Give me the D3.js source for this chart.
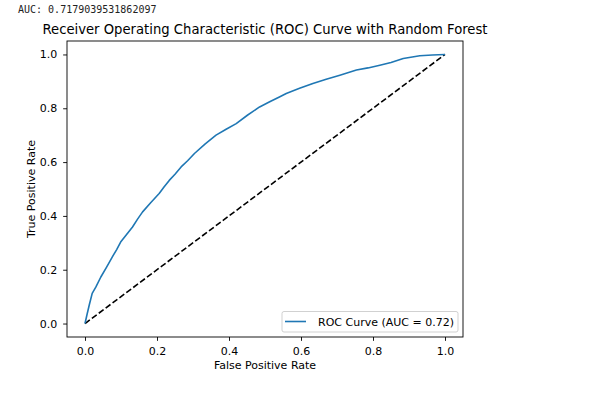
<!DOCTYPE html>
<html>
<head>
<meta charset="utf-8">
<script src="https://cdn.jsdelivr.net/npm/d3@7"></script>
<style>
  body { margin: 0; background: #fff; }
  svg text { font-family: "DejaVu Sans", sans-serif; }
</style>
</head>
<body>
<div id="chart"></div>
<script>
// ROC points
const fpr = [0, 0.005, 0.012, 0.020, 0.030, 0.044, 0.060, 0.076, 0.088, 0.099, 0.115, 0.132, 0.146, 0.160, 0.183, 0.206, 0.220, 0.234, 0.250, 0.267, 0.285, 0.304, 0.334, 0.364, 0.392, 0.420, 0.452, 0.485, 0.513, 0.540, 0.559, 0.596, 0.633, 0.670, 0.708, 0.754, 0.786, 0.819, 0.850, 0.884, 0.930, 0.965, 1.0];
const tpr = [0, 0.030, 0.070, 0.112, 0.135, 0.173, 0.210, 0.248, 0.275, 0.303, 0.330, 0.359, 0.388, 0.415, 0.450, 0.483, 0.508, 0.532, 0.555, 0.582, 0.605, 0.632, 0.668, 0.700, 0.722, 0.743, 0.775, 0.805, 0.824, 0.842, 0.855, 0.874, 0.892, 0.908, 0.923, 0.942, 0.950, 0.960, 0.970, 0.985, 0.995, 0.998, 1.0];
const ticks = [0, 0.2, 0.4, 0.6, 0.8, 1.0];
const aucText = "AUC: 0.7179039531862097";
const legendLabel = "ROC Curve (AUC = 0.72)";

const W = 596, H = 393;
const box = {left: 67, right: 463, top: 41, bottom: 337};

const svg = d3.select("#chart").append("svg")
  .attr("width", W)
  .attr("height", H);

svg.append("text")
  .attr("x", 18).attr("y", 13)
  .style("font-family", "'DejaVu Sans Mono', monospace")
  .style("font-size", "10px")
  .attr("fill", "#222")
  .text(aucText);

const x = d3.scaleLinear().domain([-0.05, 1.05]).range([box.left, box.right]);
const y = d3.scaleLinear().domain([-0.05, 1.05]).range([box.bottom, box.top]);

// diagonal reference
const line = d3.line().x(d => x(d[0])).y(d => y(d[1]));
svg.append("path")
  .attr("d", line([[0, 0], [1, 1]]))
  .attr("fill", "none")
  .attr("stroke", "#000")
  .attr("stroke-width", 1.6)
  .attr("stroke-dasharray", "6,2.6");

svg.append("path")
  .attr("d", line(fpr.map((f, i) => [f, tpr[i]])))
  .attr("fill", "none")
  .attr("stroke", "#1f77b4")
  .attr("stroke-width", 1.6)
  .attr("stroke-linejoin", "round");

// axes
const fmt = d3.format(".1f");
const gx = svg.append("g")
  .attr("transform", `translate(0,${box.bottom})`)
  .call(d3.axisBottom(x).tickValues(ticks).tickFormat(fmt).tickSize(3.85).tickPadding(6));
const gy = svg.append("g")
  .attr("transform", `translate(${box.left},0)`)
  .call(d3.axisLeft(y).tickValues(ticks).tickFormat(fmt).tickSize(3.85).tickPadding(6));
[gx, gy].forEach(g => {
  g.select(".domain").remove();
  g.selectAll("line").attr("stroke", "#000").attr("stroke-width", 0.9);
  g.selectAll("text").attr("fill", "#000").style("font-size", "11px")
    .style("font-family", "'DejaVu Sans', sans-serif");
});

svg.append("rect")
  .attr("x", box.left).attr("y", box.top)
  .attr("width", box.right - box.left).attr("height", box.bottom - box.top)
  .attr("fill", "none").attr("stroke", "#000").attr("stroke-width", 0.9);

// labels
svg.append("text")
  .attr("x", (box.left + box.right) / 2).attr("y", 34)
  .attr("text-anchor", "middle")
  .style("font-size", "13.2px")
  .text("Receiver Operating Characteristic (ROC) Curve with Random Forest");

svg.append("text")
  .attr("x", (box.left + box.right) / 2).attr("y", 368.5)
  .attr("text-anchor", "middle")
  .style("font-size", "11px")
  .text("False Positive Rate");

svg.append("text")
  .attr("transform", `translate(35,${(box.top + box.bottom) / 2}) rotate(-90)`)
  .attr("text-anchor", "middle")
  .style("font-size", "11px")
  .text("True Positive Rate");

// legend
const lg = svg.append("g");
lg.append("rect")
  .attr("x", 282).attr("y", 311.5)
  .attr("width", 176).attr("height", 20.5)
  .attr("rx", 2)
  .attr("fill", "#fff").attr("fill-opacity", 0.8)
  .attr("stroke", "#ccc").attr("stroke-width", 0.9);
lg.append("line")
  .attr("x1", 285).attr("x2", 306).attr("y1", 321.5).attr("y2", 321.5)
  .attr("stroke", "#1f77b4").attr("stroke-width", 1.6);
lg.append("text")
  .attr("x", 318).attr("y", 326)
  .style("font-size", "11px")
  .text(legendLabel);
</script>
</body>
</html>
